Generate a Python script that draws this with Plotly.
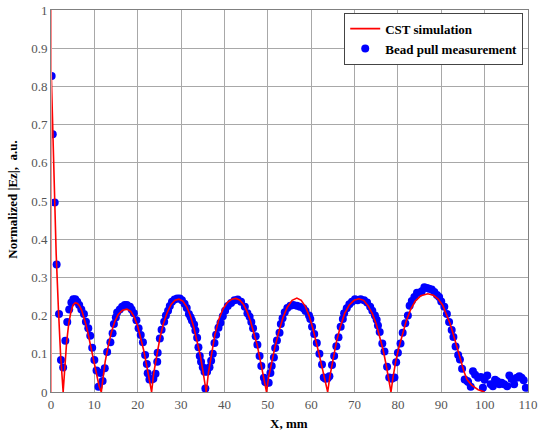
import plotly.graph_objects as go

# CST simulation curve
cst_x = [0.0, 0.3, 0.7, 1.2, 1.7, 2.2, 2.8,
         3.1, 3.6, 4.1, 4.6, 5.1, 5.6, 6.1, 6.6, 7.1, 7.6, 8.1, 8.6, 9.1, 9.6, 10.1, 10.6, 11.1, 11.6,
         12.0, 12.5, 13.2, 13.9, 14.7, 15.5, 16.5, 17.5, 18.4, 19.2, 20.0, 20.7, 21.4, 22.0, 22.6, 23.2,
         23.7, 24.3, 25.1, 25.9, 26.8, 27.7, 28.6, 29.5, 30.4, 31.3, 32.1, 32.9, 33.7, 34.4, 35.0, 35.5, 35.8,
         36.3, 37.0, 37.8, 38.7, 39.7, 40.7, 41.7, 42.6, 43.5, 44.4, 45.2, 46.0, 46.8, 47.6, 48.3, 49.0, 49.7,
         50.2, 50.9, 51.7, 52.6, 53.5, 54.5, 55.6, 56.7, 57.7, 58.6, 59.5, 60.3, 61.1, 61.8, 62.5, 63.2, 63.8,
         64.3, 65.0, 65.8, 66.7, 67.7, 68.8, 69.9, 71.0, 72.1, 73.1, 74.1, 75.0, 75.8, 76.6, 77.3, 77.9, 78.4,
         78.9, 79.5, 80.2, 81.0, 81.9, 82.9, 84.0, 85.3, 86.9, 88.2, 89.3, 90.3, 91.2, 92.0, 92.8, 93.6, 94.4,
         95.2, 95.9, 97.0, 98.5, 100.0]
cst_y = [0.86, 0.72, 0.55, 0.36, 0.22, 0.10, 0.0,
         0.06, 0.13, 0.18, 0.21, 0.228, 0.234, 0.232, 0.225, 0.213, 0.196, 0.175, 0.15, 0.123, 0.095, 0.065, 0.038, 0.015, 0.0,
         0.04, 0.08, 0.12, 0.155, 0.184, 0.203, 0.214, 0.217, 0.211, 0.196, 0.172, 0.143, 0.108, 0.073, 0.037, 0.0,
         0.05, 0.092, 0.14, 0.178, 0.208, 0.229, 0.24, 0.243, 0.238, 0.223, 0.201, 0.171, 0.135, 0.097, 0.058, 0.024, 0.0,
         0.05, 0.1, 0.15, 0.19, 0.218, 0.235, 0.243, 0.245, 0.241, 0.229, 0.211, 0.186, 0.155, 0.12, 0.08, 0.04, 0.0,
         0.04, 0.08, 0.12, 0.16, 0.195, 0.222, 0.24, 0.246, 0.24, 0.225, 0.2, 0.17, 0.135, 0.1, 0.065, 0.03, 0.0,
         0.04, 0.085, 0.13, 0.17, 0.205, 0.228, 0.24, 0.244, 0.24, 0.226, 0.205, 0.178, 0.145, 0.11, 0.07, 0.035, 0.0,
         0.04, 0.08, 0.115, 0.15, 0.185, 0.215, 0.238, 0.252, 0.257, 0.253, 0.243, 0.228, 0.205, 0.18, 0.15, 0.118, 0.085,
         0.055, 0.033, 0.018, 0.006, 0.0]

bead_x = [0.15, 0.4, 0.85, 1.3, 1.85, 2.3, 2.8, 3.3, 3.75, 4.2, 4.7, 5.15, 5.6, 6.05, 6.5, 7.0, 7.6, 8.05, 8.6, 9.05,
          9.5, 10.0, 10.5, 10.95, 11.4, 11.9, 12.4, 12.95, 13.7, 14.2, 14.5, 14.95, 15.25, 15.86, 16.4, 17.0, 17.5,
          18.2, 18.6, 19.1, 19.7, 20.2, 20.7, 21.2, 21.7, 22.1, 22.3, 22.7, 23.2, 23.6, 24.1, 24.5, 24.6, 25.1, 25.5,
          26.1, 26.5, 27.0, 27.4, 27.9, 28.5, 29.1, 29.7, 30.2, 30.8, 31.3, 31.8, 32.2, 32.5, 33.0, 33.3, 33.7, 34.0,
          34.3, 34.6, 35.0, 35.4, 35.6, 36.0, 36.55, 36.93, 37.32, 37.7, 38.08, 38.62, 39.08, 39.62, 40.15, 40.77,
          41.53, 42.3, 43.06, 43.83, 44.7, 45.3, 45.8, 46.2, 46.6, 47.2, 47.6, 48.1, 48.5, 49.1, 49.4, 49.8, 50.2,
          50.6, 50.9, 51.4, 51.7, 52.1, 52.7, 53.0, 53.4, 53.9, 54.5, 55.2, 55.9, 56.7, 57.4, 58.2, 58.7, 59.5, 59.8,
          60.2, 60.7, 61.3, 61.9, 62.5, 62.9, 63.3, 63.8, 64.2, 64.8, 65.3, 65.8, 66.3, 66.8, 67.3, 67.6, 68.2, 68.8,
          69.4, 70.1, 70.7, 71.4, 72.2, 72.9, 73.6, 74.1, 74.7, 75.1, 75.4, 75.8, 76.4, 76.9, 77.5, 78.0, 78.6, 79.2,
          79.6, 80.0, 80.6, 81.1, 81.7, 82.3, 82.7, 83.2, 83.8, 84.4, 85.0, 85.5, 86.1, 86.7, 87.2, 87.8, 88.4, 89.0,
          89.5, 90.0, 90.7, 91.3, 91.8, 92.4, 92.8, 93.3, 93.9, 94.3, 94.8, 95.4, 96.0, 96.2, 96.8, 97.3, 97.8, 98.5,
          99.1, 99.6, 100.0, 100.6, 101.4, 101.9, 102.4, 102.9, 103.4, 103.9, 104.5, 105.2, 105.7, 106.2, 106.8,
          107.4, 108.0, 108.5, 109.0, 109.5]
bead_y = [0.827, 0.675, 0.496, 0.334, 0.204, 0.084, 0.064, 0.134, 0.183, 0.216, 0.234, 0.243, 0.243, 0.236, 0.228,
          0.216, 0.204, 0.184, 0.167, 0.147, 0.116, 0.084, 0.056, 0.014, 0.05, 0.029, 0.062, 0.105, 0.13, 0.154, 0.178,
          0.195, 0.208, 0.216, 0.223, 0.228, 0.228, 0.223, 0.216, 0.206, 0.188, 0.167, 0.149, 0.13, 0.097, 0.073,
          0.049, 0.033, 0.033, 0.035, 0.048, 0.079, 0.103, 0.14, 0.163, 0.184, 0.2, 0.213, 0.225, 0.236, 0.242, 0.245,
          0.245, 0.24, 0.231, 0.22, 0.204, 0.196, 0.187, 0.177, 0.161, 0.142, 0.117, 0.094, 0.079, 0.065, 0.053,
          0.009, 0.053, 0.065, 0.082, 0.1, 0.128, 0.15, 0.168, 0.181, 0.198, 0.213, 0.225, 0.233, 0.24, 0.242, 0.236,
          0.223, 0.206, 0.197, 0.183, 0.167, 0.146, 0.124, 0.094, 0.068, 0.037, 0.026, 0.024, 0.024, 0.05, 0.068,
          0.09, 0.115, 0.135, 0.155, 0.178, 0.193, 0.209, 0.22, 0.226, 0.228, 0.226, 0.223, 0.219, 0.212, 0.2, 0.191,
          0.171, 0.152, 0.128, 0.1, 0.072, 0.038, 0.035, 0.036, 0.041, 0.071, 0.094, 0.12, 0.143, 0.171, 0.191, 0.206,
          0.219, 0.23, 0.236, 0.243, 0.24, 0.243, 0.24, 0.234, 0.223, 0.213, 0.2, 0.189, 0.174, 0.157, 0.127, 0.106,
          0.066, 0.038, 0.035, 0.038, 0.078, 0.103, 0.127, 0.155, 0.18, 0.2, 0.226, 0.238, 0.249, 0.26, 0.26, 0.264,
          0.274, 0.272, 0.27, 0.268, 0.262, 0.254, 0.249, 0.237, 0.223, 0.204, 0.183, 0.162, 0.144, 0.119, 0.097,
          0.085, 0.061, 0.033, 0.029, 0.026, 0.014, 0.054, 0.045, 0.037, 0.039, 0.011, 0.032, 0.043, 0.02, 0.015,
          0.032, 0.028, 0.02, 0.024, 0.02, 0.015, 0.043, 0.034, 0.02, 0.037, 0.041, 0.037, 0.031, 0.011]

x_ticks = list(range(0, 111, 10))
y_ticks = [0, 0.1, 0.2, 0.3, 0.4, 0.5, 0.6, 0.7, 0.8, 0.9, 1]
y_tick_text = ["0", "0.1", "0.2", "0.3", "0.4", "0.5", "0.6", "0.7", "0.8", "0.9", "1"]

serif = "Liberation Serif, Times New Roman, serif"

fig = go.Figure()
fig.add_trace(go.Scatter(
    x=bead_x, y=bead_y, mode="markers", name="Bead pull measurement",
    marker=dict(color="#0000ff", size=8, line=dict(width=0)), legendrank=2))
fig.add_trace(go.Scatter(
    x=cst_x, y=cst_y, mode="lines", name="CST simulation",
    line=dict(color="#ff0000", width=1.6), legendrank=1))

fig.add_shape(type="line", xref="x", yref="paper", x0=0, x1=0, y0=0, y1=1,
              line=dict(color="#ff8a8a", width=2), layer="above")

fig.update_layout(
    width=539, height=435,
    margin=dict(l=51, r=11, t=10, b=43),
    paper_bgcolor="white", plot_bgcolor="white",
    font=dict(family=serif, size=12, color="#555555"),
    showlegend=True,
    legend=dict(x=0.99, y=0.993, xanchor="right", yanchor="top",
                bgcolor="white", bordercolor="#444444", borderwidth=1,
                font=dict(family=serif, size=13, color="#000000", weight="bold"),
                tracegroupgap=0, itemwidth=30),
    xaxis=dict(range=[0, 110], tickvals=x_ticks, showgrid=True, gridcolor="#a8a8a8", gridwidth=1,
               showline=True, linecolor="#808080", linewidth=1, mirror=True, zeroline=False,
               automargin=False, ticklabeloverflow="allow", ticks="",
               tickfont=dict(family=serif, size=13, color="#555555")),
    yaxis=dict(range=[0, 1], tickvals=y_ticks, ticktext=y_tick_text, showgrid=True, gridcolor="#a8a8a8",
               gridwidth=1, showline=True, linecolor="#808080", linewidth=1, mirror=True, zeroline=False,
               automargin=False, ticklabeloverflow="allow", ticks="",
               tickfont=dict(family=serif, size=13, color="#555555")),
    annotations=[
        dict(text="X, mm", xref="paper", yref="paper", x=0.498, y=-0.082, showarrow=False,
             font=dict(family=serif, size=13, color="#000000", weight="bold"), xanchor="center", yanchor="middle"),
        dict(text="Normalized |Ez|,  a.u.", xref="paper", yref="paper", x=-0.08, y=0.503, showarrow=False,
             textangle=-90, font=dict(family=serif, size=13, color="#000000", weight="bold"),
             xanchor="center", yanchor="middle"),
    ],
)

fig.write_html("out.html")
